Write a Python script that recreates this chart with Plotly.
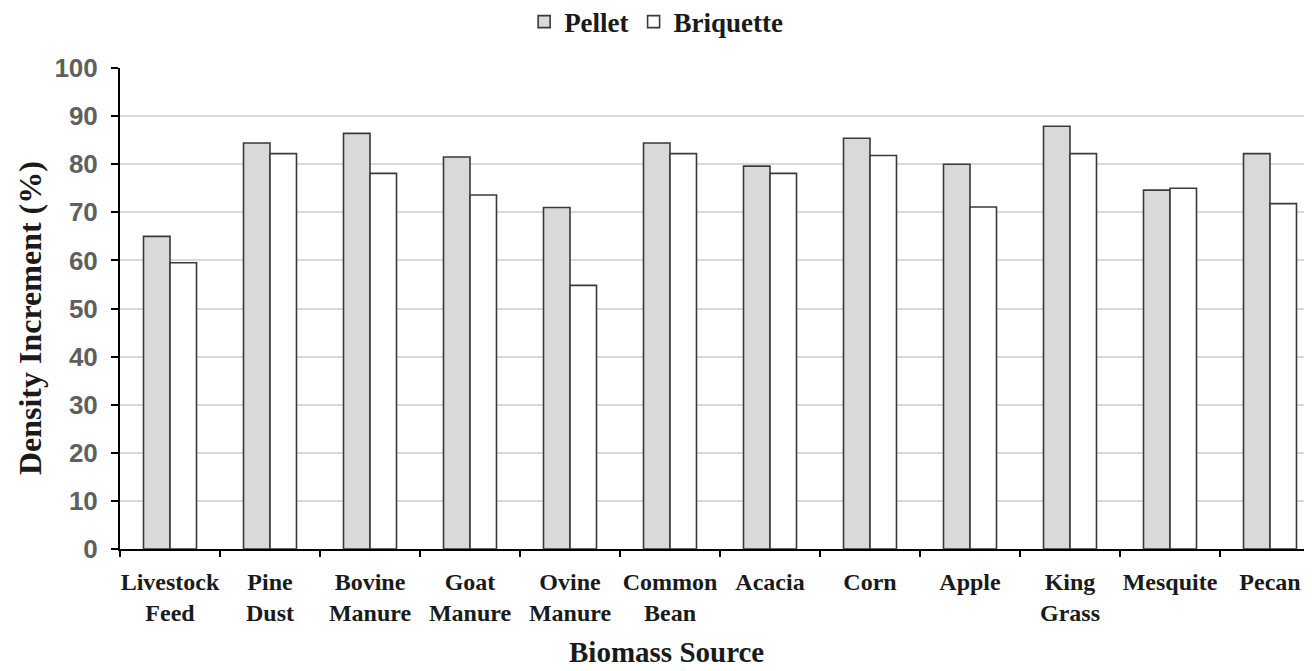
import plotly.graph_objects as go

categories = ["Livestock<br>Feed", "Pine<br>Dust", "Bovine<br>Manure", "Goat<br>Manure", "Ovine<br>Manure",
              "Common<br>Bean", "Acacia", "Corn", "Apple", "King<br>Grass", "Mesquite", "Pecan"]
pellet = [65.0, 84.4, 86.4, 81.5, 71.0, 84.4, 79.6, 85.4, 80.0, 87.9, 74.6, 82.2]
briquette = [59.5, 82.2, 78.1, 73.6, 54.8, 82.2, 78.1, 81.8, 71.1, 82.2, 75.0, 71.8]
y_ticks = [0, 10, 20, 30, 40, 50, 60, 70, 80, 90, 100]

serif = "Liberation Serif"
fig = go.Figure()
fig.add_trace(go.Bar(name="Pellet", x=categories, y=pellet,
                     marker=dict(color="#d9d9d9", line=dict(color="#3a3a3a", width=1.6))))
fig.add_trace(go.Bar(name="Briquette", x=categories, y=briquette,
                     marker=dict(color="#ffffff", line=dict(color="#3a3a3a", width=1.6))))

fig.update_layout(
    width=1312, height=671,
    paper_bgcolor="white", plot_bgcolor="white",
    barmode="group", bargap=0.47, bargroupgap=0,
    margin=dict(l=112, r=0, t=60, b=130, autoexpand=False),
    legend=dict(orientation="h", x=0.494, xanchor="center", xref="container",
                y=0.979, yanchor="middle", yref="container",
                font=dict(family=serif, size=27, color="#1a1a1a", weight="bold"),
                itemwidth=30, traceorder="normal", tracegroupgap=0),
    font=dict(family=serif),
    annotations=[
        dict(text="Biomass Source", xref="paper", yref="paper", x=0.455, y=-0.214,
             xanchor="center", yanchor="middle", showarrow=False,
             font=dict(family=serif, size=29, color="#1a1a1a", weight="bold")),
        dict(text="Density Increment (%)", xref="paper", yref="paper", x=-0.075, y=0.48,
             xanchor="center", yanchor="middle", showarrow=False, textangle=-90,
             font=dict(family=serif, size=32, color="#1a1a1a", weight="bold")),
    ],
)
fig.update_xaxes(
    range=[-0.5, 11.5], tickson="boundaries", ticks="outside", ticklen=6, tickwidth=1.5,
    tickcolor="black", showline=True, linecolor="black", linewidth=2, automargin=False,
    tickfont=dict(family=serif, size=24, color="#1a1a1a", weight="bold"),
    tickangle=0, ticklabelstandoff=10,
)
fig.update_yaxes(
    range=[0, 100], tickvals=y_ticks, ticks="outside", ticklen=7, tickwidth=1.5, tickcolor="black",
    showline=True, linecolor="black", linewidth=2, showgrid=True, gridcolor="#d9d9d9", gridwidth=1.5,
    tickfont=dict(family="Liberation Sans", size=26, color="#5f5f5f", weight="bold"),
    zeroline=False, automargin=False, ticklabelstandoff=8,
)
fig.write_html("out.html")
